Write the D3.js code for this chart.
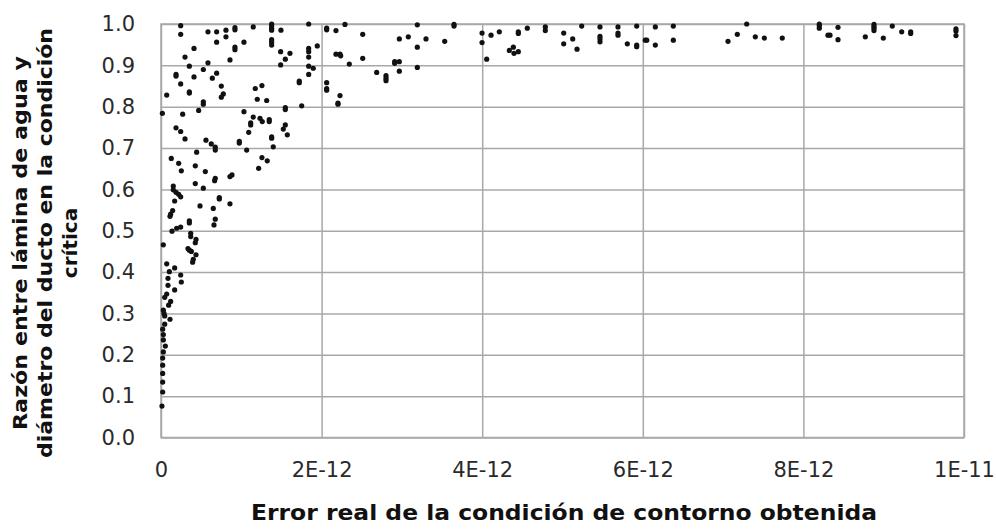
<!DOCTYPE html>
<html>
<head>
<meta charset="utf-8">
<script src="https://cdn.jsdelivr.net/npm/d3@7"></script>
<style>
  body { margin: 0; background: #fff; }
  svg { display: block; }
  text { font-family: "DejaVu Sans", Verdana, sans-serif; }
</style>
</head>
<body>
<div id="chart"></div>
<script>
// x values are in units of 1E-12, y is the ratio (0..1)
const lowBand = [
  [0.029,0.466],[0.370,0.486],[0.436,0.479],[0.427,0.471],[0.336,0.457],[0.353,0.453],[0.378,0.450],
  [0.436,0.442],[0.402,0.431],[0.394,0.424],[0.071,0.420],[0.104,0.401],[0.170,0.410],[0.245,0.393],
  [0.253,0.376],[0.087,0.385],[0.087,0.368],[0.170,0.357],[0.071,0.347],[0.046,0.339],[0.120,0.329],
  [0.095,0.320],[0.029,0.308],[0.037,0.300],[0.046,0.294],[0.112,0.286],[0.046,0.274],[0.021,0.262],
  [0.029,0.249],[0.029,0.236],[0.054,0.221],[0.029,0.207],[0.021,0.192],[0.021,0.175],[0.021,0.155],
  [0.021,0.134],[0.021,0.110],[0.012,0.076]
];
const upperLeft = [
  [0.245,0.996],[0.245,0.975],[0.585,0.981],[0.693,0.981],[0.809,0.985],[0.809,0.969],[0.921,0.991],
  [0.921,0.986],[1.149,0.993],[1.378,1.000],[1.378,0.996],[1.378,0.990],[1.378,0.985],[1.494,0.985],
  [1.839,1.000],[0.693,0.956],[0.921,0.944],[0.921,0.938],[1.033,0.956],[1.378,0.962],[1.378,0.956],
  [1.378,0.949],[0.411,0.941],[1.490,0.933],[1.606,0.929],[1.839,0.941],[1.839,0.933],[1.946,0.947],
  [0.299,0.920],[0.859,0.913],[1.548,0.915],[1.839,0.920],[0.585,0.906],[0.353,0.898],[1.490,0.901],
  [1.839,0.898],[1.896,0.893],[0.527,0.890],[0.187,0.878],[0.187,0.874],[0.693,0.881],[0.411,0.872],
  [0.639,0.869],[1.839,0.878],[0.245,0.855],[1.722,0.862],[1.722,0.858],[0.751,0.850],[1.174,0.844],
  [1.257,0.851],[0.071,0.828],[0.353,0.836],[0.353,0.833],[0.776,0.831],[0.751,0.823],[1.199,0.818],
  [1.316,0.815],[0.527,0.812],[0.527,0.806],[0.469,0.791],[1.548,0.798],[1.548,0.793],[1.752,0.802],
  [0.017,0.784],[0.270,0.782],[1.033,0.788],[1.149,0.775],[1.233,0.772],[1.261,0.764],[1.117,0.761],
  [1.117,0.756],[1.348,0.769],[1.348,0.764],[1.548,0.756],[1.523,0.746],[1.573,0.732],[0.187,0.749],
  [0.245,0.740],[1.092,0.738],[0.299,0.722],[0.560,0.719],[0.626,0.710],[0.676,0.702],[0.676,0.695],
  [0.975,0.712],[0.975,0.716],[1.378,0.727],[1.378,0.724],[1.398,0.703],[1.067,0.695],[0.444,0.690],
  [0.128,0.675],[0.220,0.663],[0.253,0.645],[0.427,0.657],[0.552,0.643],[1.257,0.677],[1.323,0.669],
  [1.216,0.651],[0.884,0.635],[0.859,0.631],[0.676,0.627],[0.668,0.621],[0.427,0.614],[0.527,0.603],
  [0.153,0.608],[0.153,0.599],[0.187,0.593],[0.220,0.588],[0.245,0.582],[0.170,0.572],[0.726,0.580],
  [0.726,0.577],[0.859,0.565],[0.486,0.560],[0.651,0.554],[0.145,0.549],[0.120,0.540],[0.112,0.535],
  [0.676,0.528],[0.660,0.514],[0.353,0.524],[0.353,0.519],[0.245,0.509],[0.195,0.506],[0.137,0.499],
  [0.370,0.494]
];
const middle = [
  [2.063,0.990],[2.063,0.986],[2.179,0.984],[2.291,0.999],[2.512,0.975],[2.179,0.927],[2.229,0.927],
  [2.238,0.923],[2.345,0.903],[2.512,0.917],[2.063,0.858],[2.063,0.844],[2.063,0.840],[2.229,0.827],
  [2.204,0.809],[2.204,0.806],[2.686,0.883],[2.802,0.875],[2.802,0.869],[2.802,0.863],[2.910,0.909],
  [2.910,0.905],[2.968,0.909],[2.968,0.886],[2.968,0.964],[3.080,0.969],[3.192,0.998],[3.192,0.944],
  [3.192,0.895],[3.300,0.964],[3.533,0.958],[3.649,0.999],[3.649,0.995],[3.998,0.978],[3.998,0.955],
  [4.056,0.915],[4.110,0.973],[4.213,0.981]
];
const rightA = [
  [4.338,0.936],[4.388,0.944],[4.396,0.929],[4.450,0.933],[4.450,0.981],[4.450,0.977],[4.562,0.990],
  [4.786,0.993],[4.786,0.984],[5.015,0.978],[5.015,0.952],[5.127,0.964],[5.181,0.939],[5.239,0.995],
  [5.467,0.993],[5.467,0.970],[5.467,0.964],[5.467,0.957],[5.691,0.993],[5.691,0.978],[5.691,0.973],
  [5.807,0.952],[5.924,0.995],[5.924,0.949],[5.924,0.945],[6.031,0.961],[6.049,0.961],[6.156,0.993],
  [6.156,0.949],[6.380,0.995],[6.380,0.961],[7.061,0.958]
];
const rightB = [
  [7.177,0.975],[7.294,1.000],[7.401,0.969],[7.513,0.966],[7.737,0.966],[8.198,1.000],[8.198,0.996],
  [8.198,0.990],[8.306,0.973],[8.331,0.973],[8.431,0.992],[8.431,0.962],[8.771,0.969],[8.879,0.999],
  [8.879,0.994],[8.879,0.990],[8.879,0.984],[8.995,0.966],[9.107,0.995],[9.224,0.981],[9.336,0.981],
  [9.336,0.977],[9.900,0.988],[9.900,0.983],[9.900,0.972]
];

const xTicks = [0, 2, 4, 6, 8, 10];
const xTickLabels = ["0", "2E-12", "4E-12", "6E-12", "8E-12", "1E-11"];
const yTicks = [0, 0.1, 0.2, 0.3, 0.4, 0.5, 0.6, 0.7, 0.8, 0.9, 1.0];
const xTitle = "Error real de la condición de contorno obtenida";
const yTitleLines = ["Razón entre lámina de agua y", "diámetro del ducto en la condición", "crítica"];

const width = 996, height = 532;
const plotLeft = 161, plotRight = 964, plotTop = 24, plotBottom = 437.5;
const gridColor = "#a8a8a8";

const x = d3.scaleLinear().domain([0, 10]).range([plotLeft, plotRight]);
const y = d3.scaleLinear().domain([0, 1]).range([plotBottom, plotTop]);

const svg = d3.select("#chart").append("svg")
  .attr("width", width)
  .attr("height", height);

/* grid + labels via axes */
const yAxis = d3.axisLeft(y)
  .tickValues(yTicks)
  .tickSize(-(plotRight - plotLeft))
  .tickPadding(26)
  .tickFormat(d3.format(".1f"));

const xAxis = d3.axisBottom(x)
  .tickValues(xTicks)
  .tickSize(-(plotBottom - plotTop))
  .tickPadding(25)
  .tickFormat((d, i) => xTickLabels[i]);

const gy = svg.append("g")
  .attr("transform", `translate(${plotLeft},0)`)
  .call(yAxis);

const gx = svg.append("g")
  .attr("transform", `translate(0,${plotBottom})`)
  .call(xAxis);

[gx, gy].forEach(g => {
  g.select(".domain").remove();
  g.selectAll(".tick line").attr("stroke", gridColor).attr("stroke-width", 1.5);
  g.selectAll(".tick text")
    .attr("fill", "#2a2a2a")
    .style("font-size", "21px")
    .style("font-family", "'DejaVu Sans', Verdana, sans-serif");
});

/* plot border */
svg.append("rect")
  .attr("x", plotLeft).attr("y", plotTop)
  .attr("width", plotRight - plotLeft).attr("height", plotBottom - plotTop)
  .attr("fill", "none")
  .attr("stroke", gridColor)
  .attr("stroke-width", 1.5);

/* points */
const allPoints = [].concat(lowBand, upperLeft, middle, rightA, rightB);
svg.append("g")
  .selectAll("circle")
  .data(allPoints).enter()
  .append("circle")
  .attr("cx", d => x(d[0]))
  .attr("cy", d => y(d[1]))
  .attr("r", 2.6)
  .attr("fill", "#111");

/* titles */
svg.append("text")
  .attr("x", 564)
  .attr("y", 520)
  .attr("text-anchor", "middle")
  .attr("textLength", 626)
  .attr("lengthAdjust", "spacingAndGlyphs")
  .style("font-size", "21px")
  .style("font-weight", "bold")
  .attr("fill", "#111")
  .text(xTitle);

const yTitleX = [27, 52, 77];
const yTitleLen = [374, 430, null];
yTitleLines.forEach((line, i) => {
  const t = svg.append("text")
    .attr("transform", `translate(${yTitleX[i]},243) rotate(-90)`)
    .attr("text-anchor", "middle")
    .style("font-size", "20px")
    .style("font-weight", "bold")
    .attr("fill", "#111")
    .text(line);
  if (yTitleLen[i]) t.attr("textLength", yTitleLen[i]).attr("lengthAdjust", "spacingAndGlyphs");
});
</script>
</body>
</html>
